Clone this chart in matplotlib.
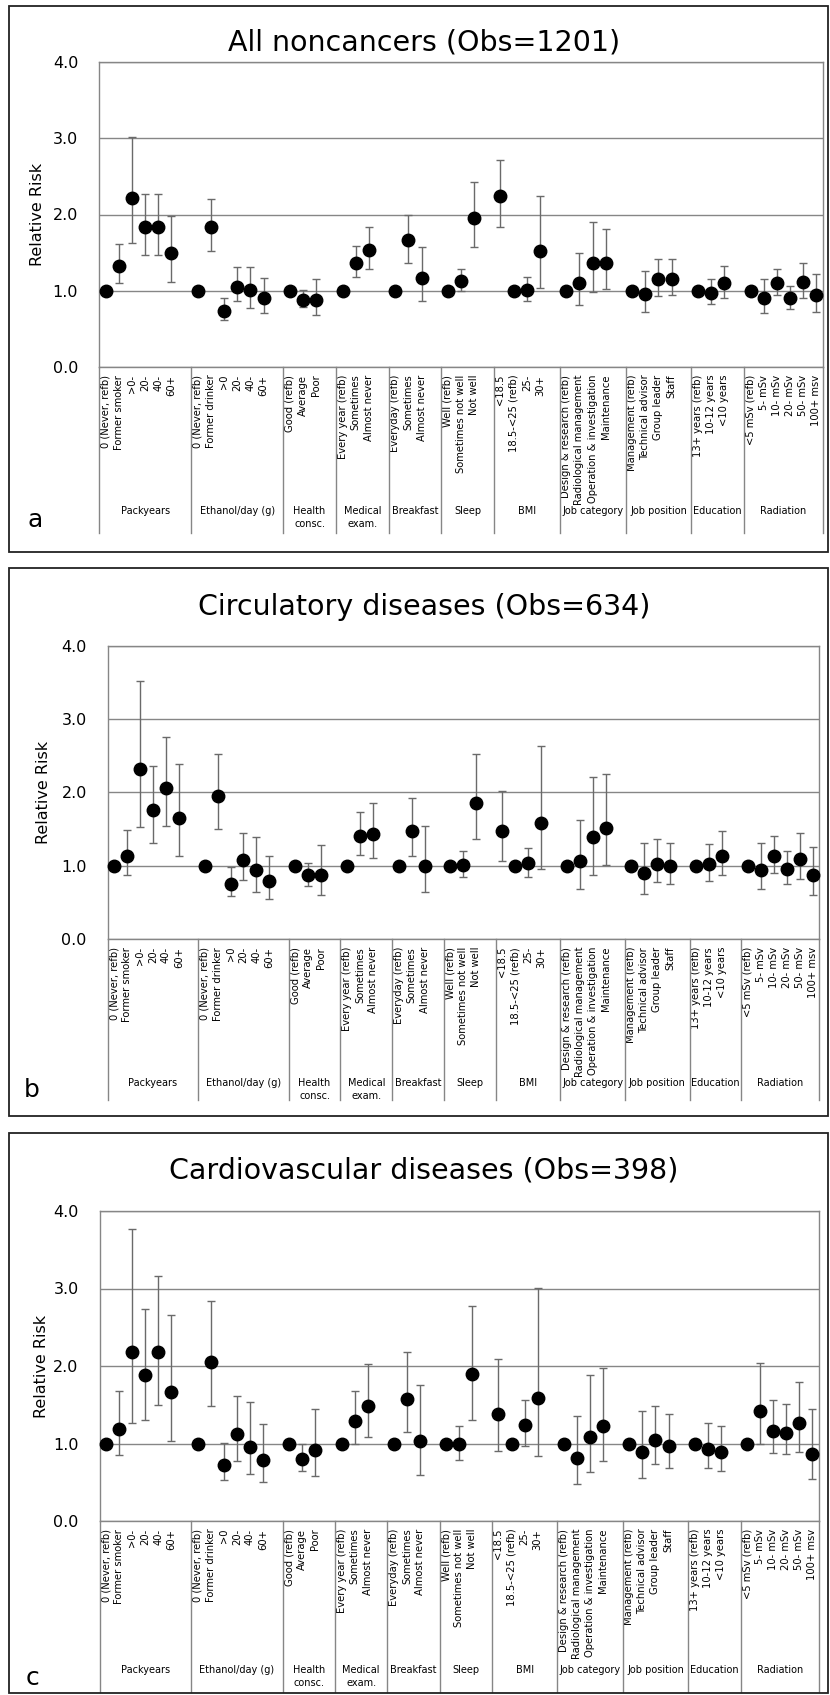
import numpy as np
import matplotlib.pyplot as plt
from matplotlib.patches import Rectangle
from matplotlib.transforms import blended_transform_factory

W, H = 830, 1695

groups = ["Packyears", "Ethanol/day (g)", "Health\nconsc.", "Medical\nexam.", "Breakfast",
          "Sleep", "BMI", "Job category", "Job position", "Education", "Radiation"]
levels = [
    ["0 (Never, refb)", "Former smoker", ">0-", "20-", "40-", "60+"],
    ["0 (Never, refb)", "Former drinker", ">0", "20-", "40-", "60+"],
    ["Good (refb)", "Average", "Poor"],
    ["Every year (refb)", "Sometimes", "Almost never"],
    ["Everyday (refb)", "Sometimes", "Almost never"],
    ["Well (refb)", "Sometimes not well", "Not well"],
    ["<18.5", "18.5-<25 (refb)", "25-", "30+"],
    ["Design & research (refb)", "Radiological management", "Operation & investigation", "Maintenance"],
    ["Management (refb)", "Technical advisor", "Group leader", "Staff"],
    ["13+ years (refb)", "10-12 years", "<10 years"],
    ["<5 mSv (refb)", "5- mSv", "10- mSv", "20- mSv", "50- mSv", "100+ msv"],
]

# a: all noncancers
rr_a = [1.00, 1.33, 2.21, 1.83, 1.83, 1.49,  1.00, 1.83, 0.74, 1.05, 1.01, 0.91,
        1.00, 0.88, 0.88,  1.00, 1.37, 1.54,  1.00, 1.66, 1.17,  1.00, 1.13, 1.95,
        2.24, 1.00, 1.01, 1.52,  1.00, 1.10, 1.37, 1.36,  1.00, 0.96, 1.15, 1.16,
        1.00, 0.97, 1.10,  1.00, 0.90, 1.10, 0.90, 1.11, 0.94]
lo_a = [None, 1.10, 1.62, 1.47, 1.47, 1.11,  None, 1.52, 0.62, 0.86, 0.78, 0.71,
        None, 0.79, 0.68,  None, 1.18, 1.29,  None, 1.37, 0.87,  None, 1.00, 1.57,
        1.84, None, 0.87, 1.03,  None, 0.81, 0.98, 1.02,  None, 0.72, 0.93, 0.95,
        None, 0.82, 0.91,  None, 0.71, 0.94, 0.76, 0.90, 0.72]
hi_a = [None, 1.61, 3.02, 2.27, 2.27, 1.98,  None, 2.20, 0.90, 1.31, 1.31, 1.17,
        None, 1.01, 1.15,  None, 1.59, 1.84,  None, 1.99, 1.58,  None, 1.28, 2.42,
        2.72, None, 1.18, 2.24,  None, 1.50, 1.90, 1.81,  None, 1.26, 1.42, 1.42,
        None, 1.15, 1.32,  None, 1.15, 1.29, 1.06, 1.36, 1.22]

# b: circulatory diseases
rr_b = [1.00, 1.14, 2.32, 1.76, 2.06, 1.65,  1.00, 1.95, 0.76, 1.08, 0.95, 0.79,
        1.00, 0.87, 0.88,  1.00, 1.41, 1.44,  1.00, 1.48, 1.00,  1.00, 1.01, 1.86,
        1.47, 1.00, 1.04, 1.59,  1.00, 1.06, 1.39, 1.51,  1.00, 0.90, 1.03, 1.00,
        1.00, 1.02, 1.13,  1.00, 0.95, 1.13, 0.96, 1.09, 0.87]
lo_b = [None, 0.88, 1.53, 1.31, 1.55, 1.13,  None, 1.50, 0.59, 0.81, 0.65, 0.55,
        None, 0.73, 0.60,  None, 1.15, 1.11,  None, 1.14, 0.65,  None, 0.85, 1.37,
        1.07, None, 0.85, 0.96,  None, 0.69, 0.88, 1.01,  None, 0.62, 0.78, 0.76,
        None, 0.80, 0.87,  None, 0.69, 0.91, 0.76, 0.82, 0.60]
hi_b = [None, 1.49, 3.52, 2.36, 2.75, 2.39,  None, 2.53, 0.98, 1.45, 1.39, 1.14,
        None, 1.04, 1.28,  None, 1.73, 1.86,  None, 1.92, 1.54,  None, 1.20, 2.52,
        2.02, None, 1.25, 2.63,  None, 1.63, 2.21, 2.25,  None, 1.31, 1.37, 1.31,
        None, 1.30, 1.47,  None, 1.31, 1.41, 1.20, 1.45, 1.26]

# c: cardiovascular diseases
rr_c = [1.00, 1.19, 2.18, 1.88, 2.18, 1.66,  1.00, 2.05, 0.72, 1.12, 0.96, 0.79,
        1.00, 0.80, 0.92,  1.00, 1.29, 1.48,  1.00, 1.58, 1.03,  1.00, 0.99, 1.90,
        1.38, 1.00, 1.24, 1.59,  1.00, 0.81, 1.08, 1.23,  1.00, 0.89, 1.04, 0.97,
        1.00, 0.93, 0.89,  1.00, 1.42, 1.16, 1.13, 1.26, 0.87]
lo_c = [None, 0.85, 1.26, 1.30, 1.50, 1.03,  None, 1.48, 0.53, 0.78, 0.61, 0.50,
        None, 0.65, 0.58,  None, 1.00, 1.09,  None, 1.15, 0.60,  None, 0.79, 1.30,
        0.90, None, 0.97, 0.84,  None, 0.48, 0.63, 0.77,  None, 0.55, 0.74, 0.69,
        None, 0.69, 0.64,  None, 0.99, 0.88, 0.86, 0.89, 0.54]
hi_c = [None, 1.68, 3.77, 2.74, 3.16, 2.66,  None, 2.84, 1.01, 1.61, 1.54, 1.25,
        None, 1.00, 1.44,  None, 1.68, 2.03,  None, 2.18, 1.75,  None, 1.23, 2.77,
        2.09, None, 1.56, 3.01,  None, 1.35, 1.88, 1.98,  None, 1.42, 1.48, 1.38,
        None, 1.26, 1.23,  None, 2.04, 1.56, 1.51, 1.80, 1.45]

panels = [
    dict(title="All noncancers (Obs=1201)", letter="a", rr=rr_a, lo=lo_a, hi=hi_a,
         frame=(6, 552), box=(99, 62, 823, 367), title_y=43, ylab_x=37,
         letter_xy=(35, 520), group_y=506, sep_end=533),
    dict(title="Circulatory diseases (Obs=634)", letter="b", rr=rr_b, lo=lo_b, hi=hi_b,
         frame=(568, 1116), box=(107.7, 645.7, 819, 939.3), title_y=607, ylab_x=44,
         letter_xy=(32, 1090), group_y=1078, sep_end=1100),
    dict(title="Cardiovascular diseases (Obs=398)", letter="c", rr=rr_c, lo=lo_c, hi=hi_c,
         frame=(1133, 1693), box=(99.5, 1211, 819, 1521), title_y=1170, ylab_x=42,
         letter_xy=(32, 1678), group_y=1665, sep_end=1692),
]

# x slots: one empty slot after every group except the last
labels = [lab for lv in levels for lab in lv]
pos = []
bounds = [0]
s = 0
for i, lv in enumerate(levels):
    pos += [s + j + 0.5 for j in range(len(lv))]
    s += len(lv) + (1 if i < len(levels) - 1 else 0)
    bounds.append(s)
pos = np.array(pos)
nslots = s

gc = "#868686"
ec = "#6a6a6a"

fig = plt.figure(figsize=(W / 100, H / 100), dpi=100)

for p in panels:
    l, t, r, b = p["box"]
    ax = fig.add_axes([l / W, 1 - b / H, (r - l) / W, (b - t) / H])

    rr = np.array(p["rr"], dtype=float)
    lo = np.array([np.nan if v is None else v for v in p["lo"]])
    hi = np.array([np.nan if v is None else v for v in p["hi"]])
    m = ~np.isnan(lo)

    ax.errorbar(pos[m], rr[m], yerr=[rr[m] - lo[m], hi[m] - rr[m]], fmt="none",
                ecolor=ec, elinewidth=1.0, capsize=2.8, capthick=1.0, zorder=2)
    ax.plot(pos, rr, "o", color="black", ms=9, zorder=3, clip_on=False)

    ax.set_xlim(0, nslots)
    ax.set_ylim(0, 4)
    ax.set_yticks([0, 1, 2, 3, 4])
    ax.set_yticklabels(["%.1f" % v for v in [0, 1, 2, 3, 4]])
    ax.yaxis.grid(True, color=gc, lw=1.0)
    ax.set_axisbelow(True)
    for sp in ax.spines.values():
        sp.set_color(gc)
        sp.set_linewidth(1.0)
    ax.set_xticks(pos)
    ax.set_xticklabels(labels, rotation=90, fontsize=7.2)
    ax.tick_params(axis="x", length=0, pad=5.5)
    ax.tick_params(axis="y", length=0, pad=15, labelsize=11.5)

    # category groups below the tick labels
    trans = blended_transform_factory(ax.transData, fig.transFigure)
    for x in bounds:
        ax.plot([x, x], [1 - b / H, 1 - p["sep_end"] / H], color=gc, lw=1.0,
                transform=trans, clip_on=False)
    for i, g in enumerate(groups):
        ax.text((bounds[i] + bounds[i + 1]) / 2, 1 - p["group_y"] / H, g, transform=trans,
                ha="center", va="top", fontsize=7.0, linespacing=1.4)

    fig.text(424 / W, 1 - p["title_y"] / H, p["title"], ha="center", va="center", fontsize=20.5)
    fig.text(p["ylab_x"] / W, 1 - (t + b) / 2 / H, "Relative Risk", rotation=90,
             ha="center", va="center", fontsize=11.5)
    lx, ly = p["letter_xy"]
    fig.text(lx / W, 1 - ly / H, p["letter"], ha="center", va="center", fontsize=18)

    ft, fb = p["frame"]
    fig.add_artist(Rectangle((9 / W, 1 - fb / H), (828 - 9) / W, (fb - ft) / H,
                             transform=fig.transFigure, fill=False, ec="#222222", lw=1.3))

fig.savefig("out.png", dpi=100)
